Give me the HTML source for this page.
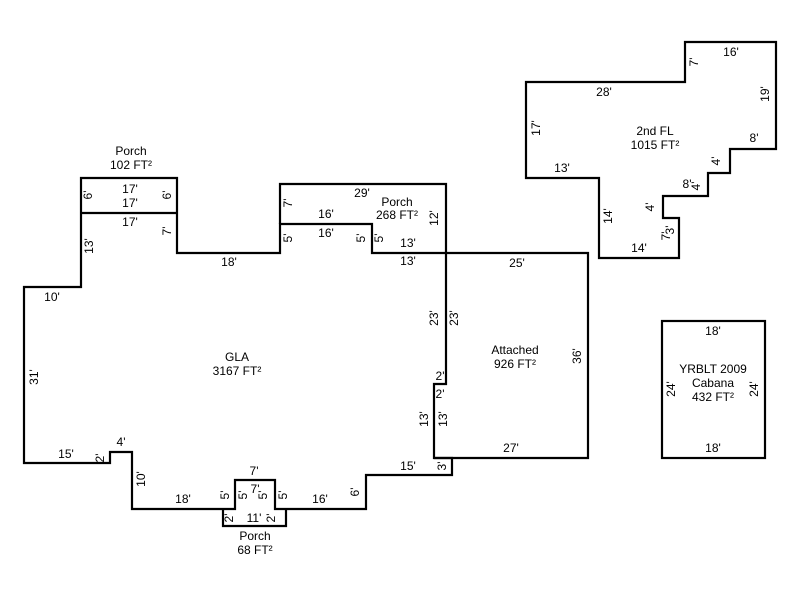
<!DOCTYPE html>
<html><head><style>body{margin:0;background:#fff}svg{display:block}</style></head><body>
<svg width="800" height="600" xmlns="http://www.w3.org/2000/svg" font-family="Liberation Sans, Arial, sans-serif" font-size="12" fill="#000">
<g fill="none" stroke="#000" stroke-width="2.2">
<path d="M81,178 H177 V253 H280 V224 H372 V253 H446 V384 H434 V458 H452 V475 H366 V509 H275 V480 H235 V509 H132 V452 H110 V463 H24 V287 H81 Z"/>
<path d="M81,213 H177"/>
<path d="M280,224 V184 H446 V253"/>
<path d="M223,509 V526 H286 V509"/>
<path d="M446,253 H588 V458 H434"/>
<rect x="662" y="321" width="103" height="137"/>
<path d="M526,82 H685 V42 H776 V149 H730 V173 H708 V196 H663 V218 H679 V258 H599 V178 H526 Z"/>
</g>
<g text-anchor="middle">
<text x="131" y="155">Porch</text><text x="131" y="169">102 FT²</text>
<text x="130" y="193">17'</text><text x="130" y="207">17'</text><text x="130" y="226">17'</text>
<text x="229" y="266">18'</text>
<text x="362" y="197">29'</text>
<text x="397" y="206">Porch</text><text x="397" y="219">268 FT²</text>
<text x="326" y="218">16'</text><text x="326" y="237">16'</text>
<text x="408" y="247">13'</text><text x="408" y="265">13'</text>
<text x="52" y="301">10'</text>
<text x="237" y="361">GLA</text><text x="237" y="375">3167 FT²</text>
<text x="515" y="354">Attached</text><text x="515" y="368">926 FT²</text>
<text x="517" y="267">25'</text>
<text x="511" y="452">27'</text>
<text x="440" y="380">2'</text><text x="440" y="398">2'</text>
<text x="66" y="458">15'</text>
<text x="121" y="446">4'</text>
<text x="183" y="503">18'</text>
<text x="254" y="475">7'</text>
<text x="255" y="493">7'</text>
<text x="254" y="522">11'</text>
<text x="320" y="503">16'</text>
<text x="408" y="470">15'</text>
<text x="255" y="540">Porch</text><text x="255" y="554">68 FT²</text>
<text x="604" y="96">28'</text>
<text x="731" y="56">16'</text>
<text x="655" y="135">2nd FL</text><text x="655" y="149">1015 FT²</text>
<text x="754" y="142">8'</text>
<text x="562" y="172">13'</text>
<text x="687" y="188">8'</text>
<text x="639" y="252">14'</text>
<text x="713" y="335">18'</text>
<text x="713" y="373">YRBLT 2009</text><text x="713" y="387">Cabana</text><text x="713" y="401">432 FT²</text>
<text x="713" y="452">18'</text>
</g>
<g text-anchor="middle">
<text transform="translate(92,195) rotate(-90)">6'</text>
<text transform="translate(171,195) rotate(-90)">6'</text>
<text transform="translate(171,231) rotate(-90)">7'</text>
<text transform="translate(93,246) rotate(-90)">13'</text>
<text transform="translate(292,203) rotate(-90)">7'</text>
<text transform="translate(292,238) rotate(-90)">5'</text>
<text transform="translate(365,238) rotate(-90)">5'</text>
<text transform="translate(383,238) rotate(-90)">5'</text>
<text transform="translate(438,218) rotate(-90)">12'</text>
<text transform="translate(438,318) rotate(-90)">23'</text>
<text transform="translate(458,318) rotate(-90)">23'</text>
<text transform="translate(581,356) rotate(-90)">36'</text>
<text transform="translate(38,377) rotate(-90)">31'</text>
<text transform="translate(104,458) rotate(-90)">2'</text>
<text transform="translate(145,479) rotate(-90)">10'</text>
<text transform="translate(428,419) rotate(-90)">13'</text>
<text transform="translate(447,419) rotate(-90)">13'</text>
<text transform="translate(446,466) rotate(-90)">3'</text>
<text transform="translate(359,492) rotate(-90)">6'</text>
<text transform="translate(229,495) rotate(-90)">5'</text>
<text transform="translate(247,495) rotate(-90)">5'</text>
<text transform="translate(267,495) rotate(-90)">5'</text>
<text transform="translate(287,495) rotate(-90)">5'</text>
<text transform="translate(233,518) rotate(-90)">2'</text>
<text transform="translate(275,518) rotate(-90)">2'</text>
<text transform="translate(540,128) rotate(-90)">17'</text>
<text transform="translate(698,62) rotate(-90)">7'</text>
<text transform="translate(769,94) rotate(-90)">19'</text>
<text transform="translate(612,216) rotate(-90)">14'</text>
<text transform="translate(654,207) rotate(-90)">4'</text>
<text transform="translate(700,186) rotate(-90)">4'</text>
<text transform="translate(720,161) rotate(-90)">4'</text>
<text transform="translate(670,236) rotate(-90)">7'</text>
<text transform="translate(674,230) rotate(-90)">3'</text>
<text transform="translate(675,389) rotate(-90)">24'</text>
<text transform="translate(758,389) rotate(-90)">24'</text>
</g>
</svg>
</body></html>
